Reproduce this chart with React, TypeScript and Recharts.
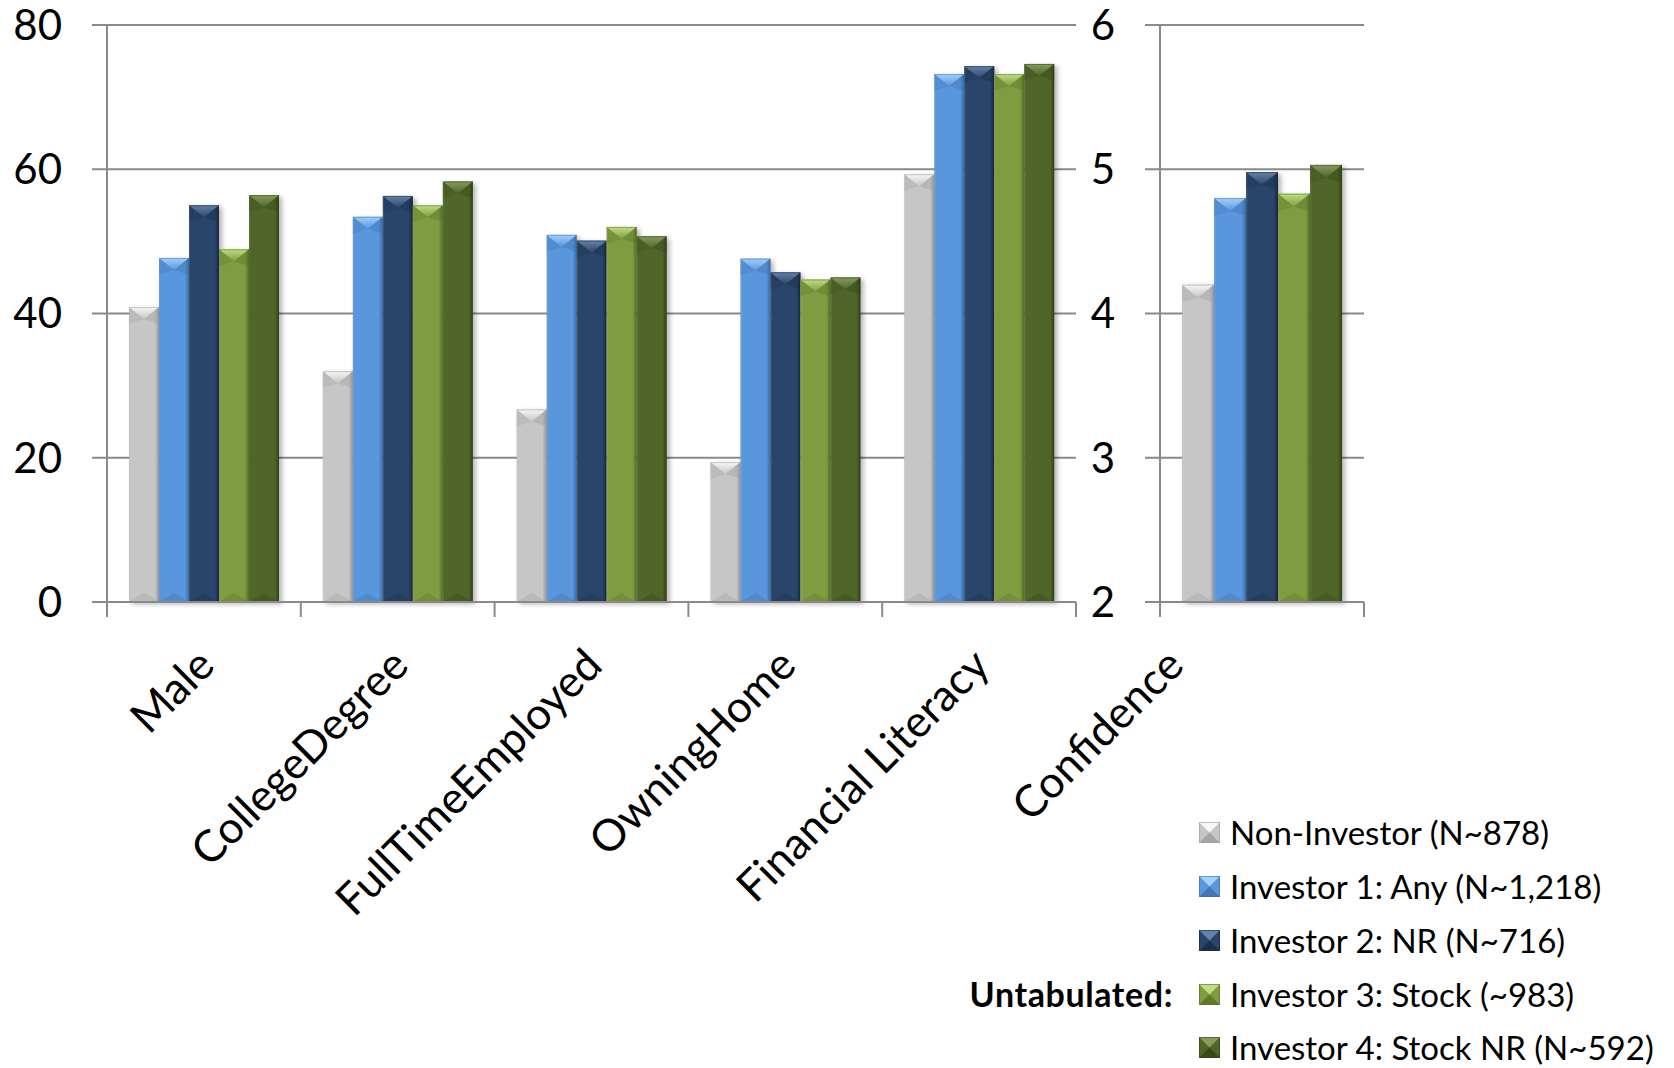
import React from "react";
import { Bar, BarChart, CartesianGrid, XAxis, YAxis } from "recharts";

// investor profile shares (%) per trait
const categories = ["Male", "CollegeDegree", "FullTimeEmployed", "OwningHome", "Financial Literacy"];
const nonInvestor = [40.9, 32.0, 26.7, 19.4, 59.3];
const investorAny = [47.7, 53.4, 50.9, 47.6, 73.2];
const investorNR = [55.0, 56.3, 50.1, 45.7, 74.3];
const investorStock = [48.9, 55.0, 52.0, 44.7, 73.2];
const investorStockNR = [56.4, 58.3, 50.7, 45.0, 74.6];

// confidence score, separate 2-6 scale
const confidenceCategory = ["Confidence"];
const confidenceScores = [4.2, 4.8, 4.98, 4.83, 5.03];

const leftTicks = [0, 20, 40, 60, 80];
const rightTicks = [2, 3, 4, 5, 6];

const seriesKeys = ["nonInvestor", "investorAny", "investorNR", "investorStock", "investorStockNR"];
const seriesLabels = [
  "Non-Investor (N~878)",
  "Investor 1: Any (N~1,218)",
  "Investor 2: NR (N~716)",
  "Investor 3: Stock (~983)",
  "Investor 4: Stock NR (N~592)"
];

const tones = [
  { id: "gray", base: "#c6c6c6", light: "#f7f7f7", dark: "#9c9c9c" },
  { id: "blue", base: "#5a96dc", light: "#a3d0fb", dark: "#3c6fae" },
  { id: "navy", base: "#29466a", light: "#6583aa", dark: "#172a42" },
  { id: "green", base: "#7f9c40", light: "#c0df84", dark: "#587026" },
  { id: "olive", base: "#506628", light: "#879b5e", dark: "#324216" }
];

const FONT = "Lato, 'Open Sans', sans-serif";
const LINE = "#8a8a8a";

const leftRows = categories.map((name, i) => ({
  name,
  nonInvestor: nonInvestor[i],
  investorAny: investorAny[i],
  investorNR: investorNR[i],
  investorStock: investorStock[i],
  investorStockNR: investorStockNR[i]
}));

const rightRows = confidenceCategory.map((name) => {
  const row: Record<string, string | number> = { name };
  seriesKeys.forEach((key, i) => {
    row[key] = confidenceScores[i];
  });
  return row;
});

function Gradients() {
  return (
    <svg width={0} height={0} style={{ position: "absolute" }}>
      <defs>
        <filter id="barShadow" x="-30%" y="-10%" width="160%" height="120%">
          <feGaussianBlur stdDeviation="2.5" />
        </filter>
        {tones.map((t) => (
          <React.Fragment key={t.id}>
            <linearGradient id={`side-${t.id}`} x1="0" y1="0" x2="1" y2="0">
              <stop offset="0%" stopColor={t.light} stopOpacity={0.7} />
              <stop offset="5%" stopColor={t.base} />
              <stop offset="86%" stopColor={t.base} />
              <stop offset="100%" stopColor={t.dark} />
            </linearGradient>
            <linearGradient id={`top-${t.id}`} x1="0" y1="0" x2="0" y2="1">
              <stop offset="0%" stopColor={t.light} />
              <stop offset="100%" stopColor={t.base} />
            </linearGradient>
          </React.Fragment>
        ))}
      </defs>
    </svg>
  );
}

function BevelBar(props: any) {
  const { x, y, width, height, tone } = props;
  if (!height || height <= 0) return null;
  const top = Math.min(width * 0.4, height / 2);
  const bottom = Math.min(width * 0.3, height / 2);
  return (
    <g>
      <rect x={x + 3} y={y + 2} width={width} height={height} fill="#000" opacity={0.3} filter="url(#barShadow)" />
      <rect x={x} y={y} width={width} height={height} fill={`url(#side-${tone.id})`} />
      <polygon points={`${x},${y} ${x + width},${y} ${x + width / 2},${y + top}`} fill={`url(#top-${tone.id})`} />
      <polygon points={`${x},${y} ${x + width / 2},${y + top} ${x},${y + top * 1.4}`} fill={tone.dark} opacity={0.25} />
      <polygon points={`${x + width},${y} ${x + width / 2},${y + top} ${x + width},${y + top * 1.4}`} fill={tone.dark} opacity={0.35} />
      <polygon
        points={`${x},${y + height} ${x + width},${y + height} ${x + width / 2},${y + height - bottom}`}
        fill={tone.dark}
        opacity={0.3}
      />
      <rect x={x + 0.5} y={y + 0.5} width={width - 1} height={height - 1} fill="none" stroke={tone.dark} strokeOpacity={0.5} />
    </g>
  );
}

// rotated category label plus tick marks on the category boundaries
function CategoryTick(props: any) {
  const { x, y, payload, index, shift, band, count } = props;
  const ax = x + shift;
  const ay = y + 55;
  const half = band / 2;
  return (
    <g>
      <line x1={x - half} x2={x - half} y1={y} y2={y + 15} stroke={LINE} strokeWidth={2} />
      {index === count - 1 ? <line x1={x + half} x2={x + half} y1={y} y2={y + 15} stroke={LINE} strokeWidth={2} /> : null}
      <text
        x={ax}
        y={ay}
        dy="0.35em"
        textAnchor="end"
        transform={`rotate(-45, ${ax}, ${ay})`}
        fill="#000"
        fontSize={44}
        fontFamily={FONT}
      >
        {payload.value}
      </text>
    </g>
  );
}

function Panel({
  rows,
  domain,
  ticks,
  width,
  axisWidth,
  rightPad,
  labelShift
}: {
  rows: Record<string, string | number>[];
  domain: [number, number];
  ticks: number[];
  width: number;
  axisWidth: number;
  rightPad: number;
  labelShift: number;
}) {
  const band = (width - axisWidth - rightPad) / rows.length;
  return (
    <BarChart
      width={width}
      height={1068}
      data={rows}
      margin={{ top: 25, right: rightPad, bottom: 465, left: 0 }}
      barCategoryGap={22}
      barGap={0}
    >
      <CartesianGrid vertical={false} stroke={LINE} strokeWidth={2} />
      <XAxis
        dataKey="name"
        interval={0}
        height={1}
        tickSize={0}
        tickMargin={0}
        tickLine={false}
        axisLine={{ stroke: LINE, strokeWidth: 2 }}
        tick={(p: any) => <CategoryTick {...p} shift={labelShift} band={band} count={rows.length} />}
      />
      <YAxis
        domain={domain}
        ticks={ticks}
        width={axisWidth}
        tickSize={15}
        tickMargin={30}
        tickLine={{ stroke: LINE, strokeWidth: 2 }}
        axisLine={{ stroke: LINE, strokeWidth: 2 }}
        tick={{ fill: "#000", fontSize: 42, fontFamily: FONT }}
      />
      {seriesKeys.map((key, i) => (
        <Bar
          key={key}
          dataKey={key}
          isAnimationActive={false}
          fill={tones[i].base}
          shape={(p: any) => <BevelBar {...p} tone={tones[i]} />}
        />
      ))}
    </BarChart>
  );
}

function LegendSwatch({ tone }: { tone: (typeof tones)[number] }) {
  const s = 21;
  return (
    <svg width={s} height={s} style={{ display: "block" }}>
      <rect x={0} y={0} width={s} height={s} fill={tone.base} />
      <polygon points={`0,0 ${s},0 ${s / 2},${s / 2}`} fill={tone.light} />
      <polygon points={`0,${s} ${s},${s} ${s / 2},${s / 2}`} fill={tone.dark} opacity={0.8} />
      <rect x={0.5} y={0.5} width={s - 1} height={s - 1} fill="none" stroke={tone.dark} strokeOpacity={0.6} />
    </svg>
  );
}

function Legend() {
  const rowCenters = [832, 886, 940, 994, 1047];
  return (
    <>
      {seriesLabels.map((label, i) => (
        <div
          key={label}
          style={{
            position: "absolute",
            left: 1199,
            top: rowCenters[i] - 17,
            height: 34,
            display: "flex",
            alignItems: "center",
            fontFamily: FONT,
            fontSize: 33,
            lineHeight: "34px",
            whiteSpace: "nowrap",
            color: "#000"
          }}
        >
          <LegendSwatch tone={tones[i]} />
          <span style={{ marginLeft: 10 }}>{label}</span>
        </div>
      ))}
      <div
        style={{
          position: "absolute",
          left: 880,
          width: 293,
          top: rowCenters[3] - 17,
          height: 34,
          lineHeight: "34px",
          textAlign: "right",
          fontFamily: FONT,
          fontSize: 34,
          fontWeight: 700,
          letterSpacing: 0.6,
          color: "#000"
        }}
      >
        Untabulated:
      </div>
    </>
  );
}

export default function App() {
  return (
    <div style={{ position: "absolute", left: 0, top: 0, width: 1674, height: 1068, background: "#fff", overflow: "hidden" }}>
      <Gradients />
      <div style={{ position: "absolute", left: 0, top: 0 }}>
        <Panel rows={leftRows} domain={[0, 80]} ticks={leftTicks} width={1090} axisWidth={107} rightPad={14} labelShift={2} />
      </div>
      <div style={{ position: "absolute", left: 900, top: 0 }}>
        <Panel rows={rightRows} domain={[2, 6]} ticks={rightTicks} width={480} axisWidth={260} rightPad={16} labelShift={-87} />
      </div>
      <Legend />
    </div>
  );
}
